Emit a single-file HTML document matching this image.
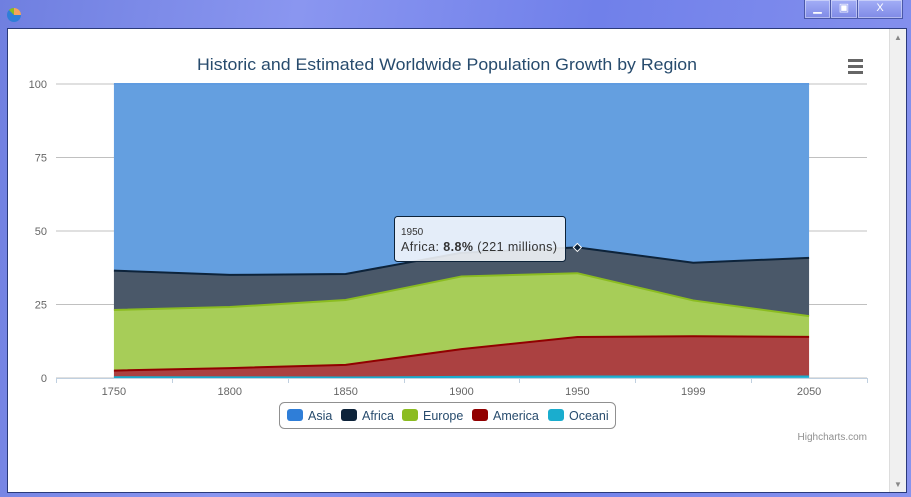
<!DOCTYPE html>
<html><head><meta charset="utf-8"><style>
html,body{margin:0;padding:0;width:911px;height:497px;overflow:hidden;font-family:"Liberation Sans",sans-serif}
#win{position:absolute;left:0;top:0;width:911px;height:497px;background:linear-gradient(100deg,#6f7fe0,#8a96f0 30%,#7080ea 60%,#8893ee);}
#client{position:absolute;left:7px;top:28px;width:898px;height:463px;background:#fff;border:1px solid #2a3a7a;}
#sb{position:absolute;right:0;top:0;width:16px;height:100%;background:#f0f0f0;border-left:1px solid #ddd}
.btn{position:absolute;top:0;height:18px;border:1px solid #4a58a8;border-top:none;background:linear-gradient(#a3aef6,#7f8ae6);color:#fff;font-size:11px;text-align:center;line-height:17px;box-shadow:inset 0 0 0 1px rgba(255,255,255,0.4)}
</style></head><body>
<div id="win">
<svg width="20" height="20" style="position:absolute;left:4px;top:4px"><circle cx="10" cy="11" r="7" fill="#2f7ed8"/><path d="M10 11 L10 4 A7 7 0 0 1 17 11 Z" fill="#f7a35c"/><path d="M10 11 L10 4 A7 7 0 0 0 5 6 Z" fill="#8bbc21"/></svg>
<div class="btn" style="left:804px;width:25px">▁</div>
<div class="btn" style="left:830px;width:26px">▣</div>
<div class="btn" style="left:857px;width:44px">X</div>
<div id="client">
<div id="sb"><div style="text-align:center;font-size:8px;color:#888;margin-top:4px">▲</div><div style="position:absolute;bottom:3px;width:100%;text-align:center;font-size:8px;color:#888">▼</div></div>
</div>
<svg id="chart" width="911" height="497" style="position:absolute;left:0;top:0"></svg>
</div>
<script>
const categories=['1750','1800','1850','1900','1950','1999','2050'];
const seriesNames=['Asia','Africa','Europe','America','Oceania'];
const asia=[502,635,809,947,1402,3634,5268];
const africa=[106,107,111,133,221,767,1766];
const europe=[163,203,276,408,547,729,628];
const america=[18,31,54,156,339,818,1201];
const oceania=[2,2,2,6,13,30,46];
const yTicks=[0,25,50,75,100];
const lineColors=['#5f9be0','#0d233a','#8bbc21','#910000','#1aadce'];
const legendColors=['#2f7ed8','#0d233a','#8bbc21','#910000','#1aadce'];
const fillColors=['#649fe0','#4a5869','#a7cd58','#ab4141','#52c1da'];
const NS='http://www.w3.org/2000/svg';
const svg=document.getElementById('chart');
function mk(t,a,p){const e=document.createElementNS(NS,t);for(const k in a)e.setAttribute(k,a[k]);(p||svg).appendChild(e);return e;}
const L=56,R=867,T=84,B=378;
const step=(R-L)/categories.length;
const xS=i=>L+step*(i+0.5);
const yS=v=>B-(B-T)*v/100;
const title=mk('text',{x:197,y:70,'font-size':17,fill:'#274b6d',textLength:500,lengthAdjust:'spacingAndGlyphs'});


title.textContent='Historic and Estimated Worldwide Population Growth by Region';
const menu=mk('g',{});


[59,65,71].forEach(y=>mk('rect',{x:848,y:y,width:15,height:3,fill:'#666'},menu));
yTicks.forEach(v=>{
 const g=mk('line',{x1:L,x2:R,y1:yS(v),y2:yS(v),stroke:'#c0c0c0','stroke-width':1});
 
 
 const t=mk('text',{x:47,y:yS(v)+4,'text-anchor':'end','font-size':11,fill:'#666'});
 
 
 t.textContent=v;
});
const data=[asia,africa,europe,america,oceania];
const totals=categories.map((c,i)=>data.reduce((s,d)=>s+d[i],0));
const cum=[];let base=categories.map(()=>0);
for(let s=data.length-1;s>=0;s--){
 const top=base.map((b,i)=>b+data[s][i]/totals[i]*100);
 cum[s]={lo:base,hi:top};base=top;
}
for(let s=0;s<data.length;s++){
 const {lo,hi}=cum[s];
 let d='M'+categories.map((c,i)=>xS(i)+','+yS(hi[i])).join(' L');
 for(let i=categories.length-1;i>=0;i--)d+=' L'+xS(i)+','+yS(lo[i]);
 d+='Z';
 const a=mk('path',{d:d,fill:fillColors[s]});
 
 
 const l=mk('path',{d:'M'+categories.map((c,i)=>xS(i)+','+yS(hi[i])).join(' L'),fill:'none',stroke:lineColors[s],'stroke-width':2});
 
 
}
const ax=mk('line',{x1:L,x2:R,y1:B+0.5,y2:B+0.5,stroke:'#c0d0e0','stroke-width':1});


for(let i=0;i<=categories.length;i++){const tx=Math.round(L+step*i)+0.5;mk('line',{x1:tx,x2:tx,y1:B,y2:B+5,stroke:'#c0d0e0'});}
categories.forEach((c,i)=>{
 const t=mk('text',{x:xS(i),y:B+17,'text-anchor':'middle','font-size':11,fill:'#666'});
 
 
 t.textContent=c;
});
const hi=4, hs=1;
const mx=xS(hi), my=yS(cum[hs].hi[hi]);
const tg=mk('g',{});


mk('rect',{x:394.5,y:216.5,width:171,height:45,rx:3,fill:'rgba(246,248,252,0.88)',stroke:'#0d233a','stroke-width':1},tg);
const t1=mk('text',{x:401,y:235,'font-size':10,fill:'#333'},tg);t1.textContent=categories[hi];
const t2=mk('text',{x:401,y:251,'font-size':12.5,fill:'#333',textLength:156,lengthAdjust:'spacing'},tg);
const pct=(africa[hi]/totals[hi]*100).toFixed(1);
t2.innerHTML='Africa: <tspan font-weight="bold">'+pct+'%</tspan> ('+africa[hi]+' millions)';
const mkr=mk('path',{d:`M${mx} ${my-4} L${mx+4} ${my} L${mx} ${my+4} L${mx-4} ${my}Z`,fill:'#0d233a',stroke:'#fff','stroke-width':1});


const lg=mk('g',{});


mk('rect',{x:279.5,y:402.5,width:336,height:26,rx:5,fill:'#fff',stroke:'#909090'},lg);
const lx=[287,341,402,472,548];
const labels=['Asia','Africa','Europe','America','Oceani'];
labels.forEach((n,i)=>{
 const e=mk('g',{},lg);
 
 
 mk('rect',{x:lx[i],y:409,width:16,height:12,rx:3,fill:legendColors[i]},e);
 const t=mk('text',{x:lx[i]+21,y:420,'font-size':12.5,fill:'#274b6d'},e);t.textContent=n;
});
const cr=mk('text',{x:867,y:440,'text-anchor':'end','font-size':10,fill:'#909090'});


cr.textContent='Highcharts.com';
</script>
</body></html>
